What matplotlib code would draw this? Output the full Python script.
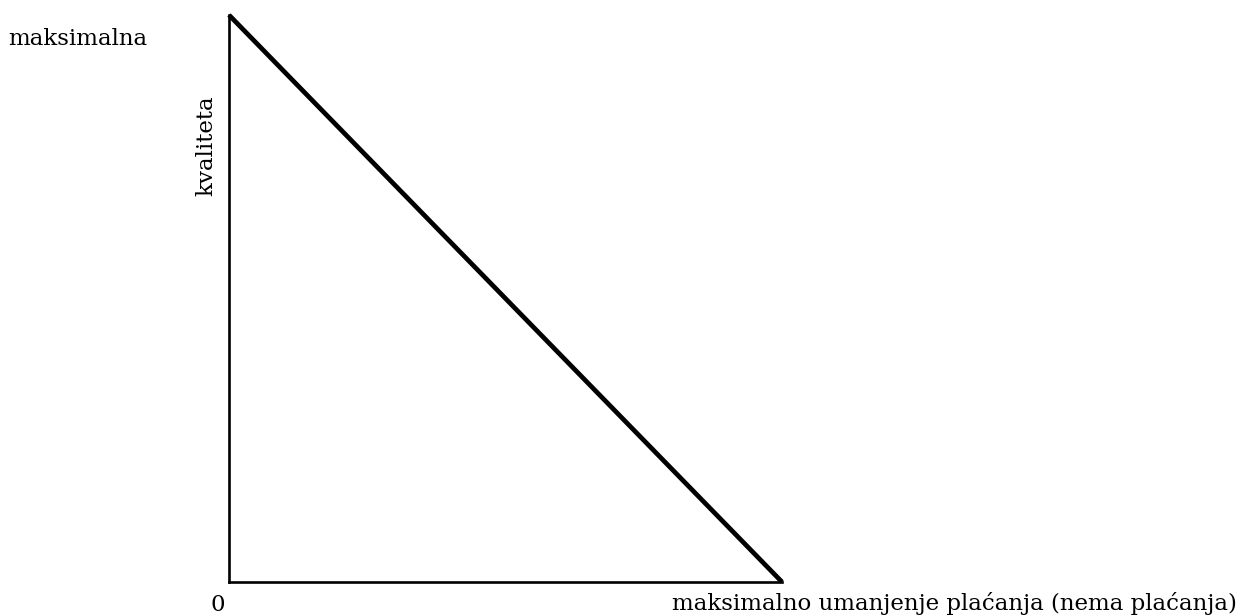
import matplotlib.pyplot as plt

# quality vs payment reduction: straight line between the two extremes
reduction = [0, 1]
quality = [1, 0]

y_top_label = "maksimalna"
y_label = "kvaliteta"
x_zero_label = "0"
x_end_label = "maksimalno umanjenje plaćanja (nema plaćanja)"

plt.rcParams['font.family'] = ['DejaVu Serif']

W, H = 1240, 616
fig = plt.figure(figsize=(W / 100, H / 100), dpi=100)
ax = fig.add_axes([229 / W, 1 - 582 / H, (782 - 229) / W, (582 - 15) / H])

ax.plot(reduction, quality, color='black', lw=3.4, solid_capstyle='butt', clip_on=False)
ax.set_xlim(0, 1)
ax.set_ylim(0, 1)
ax.set_xticks([])
ax.set_yticks([])
for side in ['top', 'right']:
    ax.spines[side].set_visible(False)
for side in ['left', 'bottom']:
    ax.spines[side].set_linewidth(1.9)

fs = 16.5
fig.text(8 / W, 1 - 45 / H, y_top_label, fontsize=fs, ha='left', va='baseline')
fig.text(206 / W, 1 - 146 / H, y_label, fontsize=fs, ha='center', va='center', rotation=90)
fig.text(218 / W, 1 - 611 / H, x_zero_label, fontsize=fs, ha='center', va='baseline')
fig.text(1237 / W, 1 - 610 / H, x_end_label, fontsize=fs, ha='right', va='baseline')

fig.savefig('out.png', dpi=100)
